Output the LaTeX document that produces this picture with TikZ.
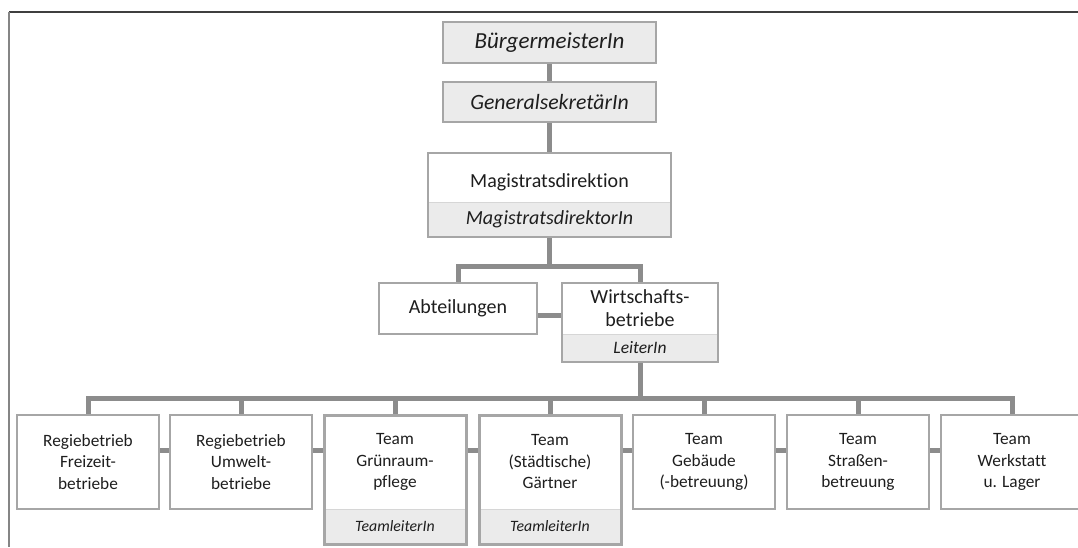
\documentclass[tikz,border=0pt]{standalone}
\usepackage{fontspec}
\setmainfont{Carlito}[Ligatures=NoCommon]
\usetikzlibrary{backgrounds}

\definecolor{boxline}{HTML}{A6A6A6}
\definecolor{linkgrey}{HTML}{8C8C8C}
\definecolor{subfill}{HTML}{EBEBEB}
\definecolor{divider}{HTML}{D6D6D6}
\definecolor{framedark}{HTML}{3F3F3F}
\definecolor{frameside}{HTML}{858585}
\definecolor{ink}{HTML}{1E1E1E}

\begin{document}
\begin{tikzpicture}[x=1pt,y=-1pt,
  every node/.style={text=ink, inner sep=0pt, outer sep=0pt, align=center, anchor=north west},
  headbox/.style={draw=boxline, line width=1.8pt, fill=subfill,
    font=\itshape\fontsize{23}{27}\selectfont},
  unitbox/.style={fill=white, font=\fontsize{20}{23}\selectfont},
  unitsub/.style={fill=subfill, draw=divider, line width=1pt,
    font=\itshape\fontsize{20}{23}\selectfont},
  teambox/.style={draw=boxline, line width=1.8pt, fill=white,
    minimum width=142, minimum height=94, font=\fontsize{17.3}{21.5}\selectfont},
  leadbox/.style={fill=white, minimum width=142, minimum height=94,
    font=\fontsize{17.3}{21.5}\selectfont},
  leadsub/.style={fill=subfill, draw=divider, line width=1pt,
    minimum width=142, minimum height=35, font=\itshape\fontsize{15.8}{19}\selectfont},
  outline/.style={draw=boxline, line width=1.8pt},
  heavyline/.style={draw=boxline, line width=3pt},
  link/.style={draw=linkgrey, line width=5pt},
]
\clip (0,0) rectangle (1078,547);

% page rules
\draw[framedark, line width=1.6pt] (9,12) -- (1078,12);
\draw[frameside, line width=1.2pt] (9,12) -- (9,547);

% top of the hierarchy
\node[headbox, minimum width=213, minimum height=41] (B) at (443,22) {BürgermeisterIn};
\node[headbox, minimum width=213, minimum height=40, font=\itshape\fontsize{21.8}{25}\selectfont] (G) at (443,82) {GeneralsekretärIn};

\node[unitbox, minimum width=243, minimum height=49] (M) at (428,153) {\raisebox{-10pt}[0pt][0pt]{Magistratsdirektion}};
\node[unitsub, minimum width=243, minimum height=35] (Msub) at (428,202) {MagistratsdirektorIn};
\draw[outline] (M.north west) rectangle (Msub.south east);

\node[unitbox, draw=boxline, line width=1.8pt, minimum width=158, minimum height=51] (A) at (379,283) {Abteilungen};

\node[unitbox, minimum width=156, minimum height=51] (W) at (562,283) {Wirtschafts-\\betriebe};
\node[unitsub, minimum width=156, minimum height=28, font=\itshape\fontsize{17.5}{20}\selectfont] (Wsub) at (562,334) {LeiterIn};
\draw[outline] (W.north west) rectangle (Wsub.south east);

% teams and departments
\node[teambox] (t1) at (17,415) {Regiebetrieb\\Freizeit-\\betriebe};
\node[teambox] (t2) at (170,415) {Regiebetrieb\\Umwelt-\\betriebe};

\node[leadbox] (t3) at (324,415) {Team\\Grünraum-\\pflege};
\node[leadsub] (t3sub) at (324,509) {TeamleiterIn};
\draw[heavyline] (t3.north west) rectangle (t3sub.south east);

\node[leadbox] (t4) at (479,415) {Team\\(Städtische)\\Gärtner};
\node[leadsub] (t4sub) at (479,509) {TeamleiterIn};
\draw[heavyline] (t4.north west) rectangle (t4sub.south east);

\node[teambox] (t5) at (633,415) {Team\\Gebäude\\(-betreuung)};
\node[teambox] (t6) at (787,415) {Team\\Straßen-\\betreuung};
\node[teambox] (t7) at (941,415) {Team\\Werkstatt\\u. Lager};

% connectors behind the boxes
\begin{scope}[on background layer]
  \coordinate (bus1) at (549,266);
  \coordinate (bus2) at (639,398);
  \draw[link] (B.south) -- (G.north);
  \draw[link] (G.south) -- (G.south |- M.north);
  \draw[link] (Msub.south) -- (Msub.south |- bus1);
  \draw[link] (A.north) |- (bus1) -| (W.north);
  \draw[link] ([yshift=-6.5pt]A.east) -- ([yshift=-6.5pt]W.west);
  \draw[link] (Wsub.south) -- (Wsub.south |- bus2);
  \draw[link] (t1.north) |- (bus2) -| (t7.north);
  \foreach \k in {2,...,6} {
    \draw[link] (t\k.north) -- (t\k.north |- bus2);
  }
  \foreach \k/\n in {1/2,2/3,3/4,4/5,5/6,6/7} {
    \draw[link] ([yshift=12pt]t\k.east) -- ([yshift=12pt]t\n.west);
  }
\end{scope}
\end{tikzpicture}
\end{document}
